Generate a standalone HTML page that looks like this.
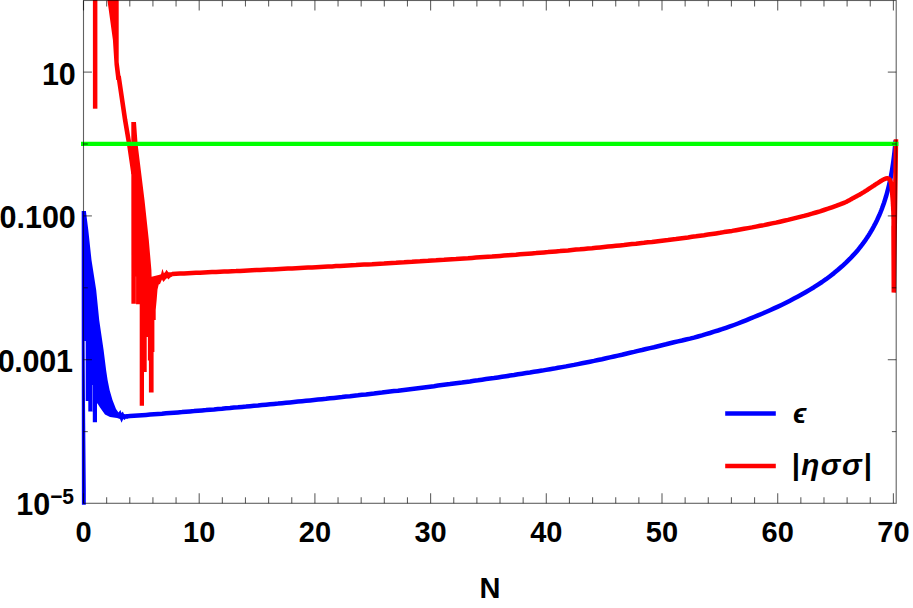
<!DOCTYPE html>
<html><head><meta charset="utf-8"><style>
html,body{margin:0;padding:0;background:#fff;}
body{width:913px;height:608px;position:relative;overflow:hidden;font-family:"Liberation Sans",sans-serif;font-weight:bold;color:#000;}
svg{position:absolute;left:0;top:0;}
.xl{position:absolute;top:514.5px;width:80px;text-align:center;font-size:29px;line-height:34px;}
.yl{position:absolute;right:837.2px;text-align:right;font-size:30.5px;line-height:40px;height:40px;white-space:nowrap;transform:scaleY(1.04);transform-origin:50% 52%;margin-top:1.5px;}
.sup{font-size:21px;position:relative;top:-11.3px;margin-left:0px;letter-spacing:-0.3px;line-height:0;}
.lg{position:absolute;font-size:30.5px;font-style:italic;line-height:34px;white-space:nowrap;letter-spacing:1.6px;}
#nl{position:absolute;left:450px;width:80px;text-align:center;top:571px;font-size:29px;line-height:34px;}
</style></head><body>
<svg width="913" height="608" viewBox="0 0 913 608">
<g fill="#0000ff" stroke="none">
<polygon points="81.7,210.9 85.9,210.9 88.3,230.0 91.5,260.0 96.2,290.0 99.2,320.0 103.6,350.0 106.1,370.0 107.6,380.0 109.6,390.0 112.5,400.0 116.0,409.0 118.5,412.5 120.4,410.0 121.5,413.0 122.8,411.5 124.0,414.0 126.0,414.2 128.0,414.1 128.0,418.6 126.0,418.6 124.5,420.0 123.2,419.0 121.6,422.8 120.0,419.0 117.0,417.9 110.0,416.9 105.0,414.4 100.0,407.5 97.5,403.6 97.0,403.6 97.0,422.3 92.8,422.3 92.8,411.5 88.3,411.5 88.3,401.0 85.7,401.0 85.7,341.0 84.6,341.0 85.0,400.0 85.8,490.0 85.8,504.8 81.9,504.8 81.7,300.0"/>
</g>
<polyline points="126.0,416.4 130.0,416.1 134.0,415.8 138.0,415.5 142.0,415.2 146.0,414.9 150.0,414.6 154.0,414.3 158.0,414.0 162.0,413.7 166.0,413.3 170.0,413.0 174.0,412.7 178.0,412.4 182.0,412.1 186.0,411.7 190.0,411.4 194.0,411.1 198.0,410.7 202.0,410.4 206.0,410.1 210.0,409.7 214.0,409.4 218.0,409.0 222.0,408.7 226.0,408.3 230.0,408.0 234.0,407.6 238.0,407.3 242.0,406.9 246.0,406.6 250.0,406.2 254.0,405.8 258.0,405.5 262.0,405.1 266.0,404.7 270.0,404.3 274.0,403.9 278.0,403.6 282.0,403.2 286.0,402.8 290.0,402.4 294.0,402.0 298.0,401.6 302.0,401.2 306.0,400.8 310.0,400.4 314.0,400.0 318.0,399.6 322.0,399.2 326.0,398.8 330.0,398.3 334.0,397.9 338.0,397.5 342.0,397.1 346.0,396.6 350.0,396.2 354.0,395.7 358.0,395.3 362.0,394.8 366.0,394.4 370.0,393.9 374.0,393.5 378.0,393.0 382.0,392.6 386.0,392.1 390.0,391.6 394.0,391.1 398.0,390.7 402.0,390.2 406.0,389.7 410.0,389.2 414.0,388.7 418.0,388.2 422.0,387.7 426.0,387.2 430.0,386.7 434.0,386.2 438.0,385.6 442.0,385.1 446.0,384.6 450.0,384.1 454.0,383.5 458.0,383.0 462.0,382.5 466.0,381.9 470.0,381.4 474.0,380.8 478.0,380.3 482.0,379.7 486.0,379.1 490.0,378.5 494.0,378.0 498.0,377.4 502.0,376.8 506.0,376.2 510.0,375.6 514.0,375.0 518.0,374.3 522.0,373.7 526.0,373.1 530.0,372.5 534.0,371.8 538.0,371.2 542.0,370.6 546.0,369.9 550.0,369.2 554.0,368.6 558.0,367.8 562.0,367.1 566.0,366.4 570.0,365.6 574.0,364.9 578.0,364.1 582.0,363.3 586.0,362.5 590.0,361.7 594.0,360.9 598.0,360.0 602.0,359.2 606.0,358.3 610.0,357.4 614.0,356.5 618.0,355.6 622.0,354.7 626.0,353.7 630.0,352.8 634.0,351.9 638.0,350.9 642.0,350.0 646.0,349.0 650.0,348.1 654.0,347.2 658.0,346.2 662.0,345.2 666.0,344.3 670.0,343.3 674.0,342.3 678.0,341.4 682.0,340.5 686.0,339.5 690.0,338.6 694.0,337.6 698.0,336.5 702.0,335.4 706.0,334.2 710.0,333.0 714.0,331.7 718.0,330.5 722.0,329.2 726.0,327.8 730.0,326.4 734.0,325.0 738.0,323.5 742.0,321.9 746.0,320.3 750.0,318.7 754.0,317.0 758.0,315.4 762.0,313.7 766.0,312.0 770.0,310.2 774.0,308.4 778.0,306.6 782.0,304.7 786.0,302.7 790.0,300.7 794.0,298.6 798.0,296.5 802.0,294.3 806.0,292.0 810.0,289.6 814.0,287.2 818.0,284.6 822.0,282.0 826.0,279.2 830.0,276.2 834.0,273.1 838.0,269.8 842.0,266.3 846.0,262.6 850.0,258.7 854.0,254.4 858.0,249.9 860.0,247.4 860.5,246.8 861.0,246.1 861.5,245.5 862.0,244.8 862.5,244.1 863.0,243.5 863.5,242.8 864.0,242.1 864.5,241.4 865.0,240.7 865.5,240.0 866.0,239.2 866.5,238.5 867.0,237.8 867.5,237.0 868.0,236.2 868.5,235.5 869.0,234.7 869.5,233.9 870.0,233.1 870.5,232.2 871.0,231.4 871.5,230.5 872.0,229.7 872.5,228.8 873.0,227.9 873.5,227.0 874.0,226.1 874.5,225.1 875.0,224.2 875.5,223.2 876.0,222.2 876.5,221.2 877.0,220.2 877.5,219.1 878.0,218.0 878.5,216.9 879.0,215.8 879.5,214.7 880.0,213.5 880.5,212.3 881.0,211.0 881.5,209.8 882.0,208.5 882.5,207.1 883.0,205.7 883.5,204.3 884.0,202.9 884.5,201.3 885.0,199.8 885.5,198.2 886.0,196.5 886.5,194.8 887.0,193.0 887.5,191.2 888.0,189.3 888.5,187.3 889.0,185.2 889.5,183.1 890.0,180.8 890.5,178.4 891.0,175.8 891.5,173.1 892.0,170.3 892.5,167.2 893.0,163.8 893.5,160.2 894.0,156.3 894.5,151.9 895.0,147.1 895.5,141.6 895.6,140.4" fill="none" stroke="#0000ff" stroke-width="4.5" stroke-linejoin="round"/>
<rect x="92.1" y="385" width="0.7" height="26.5" fill="#fff" opacity="0.55"/>
<g fill="#ff0000" stroke="none">
<polygon points="92.9,0.0 97.4,0.0 97.4,108.7 92.9,108.7"/>
<polygon points="107.4,0.0 118.7,0.0 118.7,62.0 121.0,80.0 116.3,80.0 114.5,65.0 112.9,40.0"/>
<polygon points="131.3,122.0 136.0,122.0 137.6,144.0 144.5,200.0 148.8,240.0 151.4,270.0 151.6,276.7 159.5,274.7 161.0,274.2 162.4,268.8 163.9,273.2 165.4,271.7 166.4,269.7 168.4,272.2 170.8,272.2 172.3,271.9 172.3,276.5 170.3,277.4 168.4,279.6 167.2,278.1 165.9,279.1 163.4,282.1 162.0,279.6 160.0,284.1 158.7,284.5 157.5,289.5 156.7,299.4 155.7,310.0 155.7,320.0 154.4,320.0 154.4,352.0 153.6,352.0 153.6,392.6 148.9,392.6 148.9,360.5 147.9,360.5 147.9,337.0 146.7,337.0 146.7,372.0 144.0,372.0 144.0,405.8 139.7,405.8 139.7,304.3 135.9,304.3 135.9,303.8 131.4,303.8"/>
</g>
<polyline points="118.6,76.0 125.1,120.0 129.2,144.0 133.6,174.0" fill="none" stroke="#ff0000" stroke-width="4.6"/>
<polyline points="172.0,273.9 176.0,273.7 180.0,273.5 184.0,273.4 188.0,273.2 192.0,273.0 196.0,272.8 200.0,272.7 204.0,272.5 208.0,272.3 212.0,272.1 216.0,272.0 220.0,271.8 224.0,271.6 228.0,271.4 232.0,271.2 236.0,271.1 240.0,270.9 244.0,270.7 248.0,270.5 252.0,270.3 256.0,270.1 260.0,270.0 264.0,269.8 268.0,269.6 272.0,269.4 276.0,269.2 280.0,269.0 284.0,268.8 288.0,268.6 292.0,268.4 296.0,268.2 300.0,268.0 304.0,267.8 308.0,267.6 312.0,267.4 316.0,267.2 320.0,267.0 324.0,266.8 328.0,266.6 332.0,266.4 336.0,266.1 340.0,265.9 344.0,265.7 348.0,265.5 352.0,265.3 356.0,265.1 360.0,264.8 364.0,264.6 368.0,264.4 372.0,264.2 376.0,263.9 380.0,263.7 384.0,263.5 388.0,263.2 392.0,263.0 396.0,262.8 400.0,262.5 404.0,262.3 408.0,262.0 412.0,261.8 416.0,261.5 420.0,261.3 424.0,261.0 428.0,260.8 432.0,260.5 436.0,260.3 440.0,260.0 444.0,259.8 448.0,259.5 452.0,259.2 456.0,259.0 460.0,258.7 464.0,258.4 468.0,258.2 472.0,257.9 476.0,257.6 480.0,257.3 484.0,257.0 488.0,256.7 492.0,256.5 496.0,256.2 500.0,255.9 504.0,255.6 508.0,255.3 512.0,255.0 516.0,254.7 520.0,254.3 524.0,254.0 528.0,253.7 532.0,253.4 536.0,253.1 540.0,252.7 544.0,252.4 548.0,252.1 552.0,251.7 556.0,251.4 560.0,251.1 564.0,250.7 568.0,250.4 572.0,250.0 576.0,249.6 580.0,249.3 584.0,248.9 588.0,248.5 592.0,248.2 596.0,247.8 600.0,247.4 604.0,247.0 608.0,246.6 612.0,246.2 616.0,245.8 620.0,245.4 624.0,245.0 628.0,244.5 632.0,244.1 636.0,243.7 640.0,243.2 644.0,242.8 648.0,242.3 652.0,241.9 656.0,241.4 660.0,240.9 664.0,240.4 668.0,240.0 672.0,239.5 676.0,239.0 680.0,238.4 684.0,237.9 688.0,237.4 692.0,236.8 696.0,236.3 700.0,235.7 704.0,235.2 708.0,234.6 712.0,234.0 716.0,233.4 720.0,232.8 724.0,232.1 728.0,231.5 732.0,230.9 736.0,230.2 740.0,229.5 744.0,228.8 748.0,228.1 752.0,227.4 756.0,226.6 760.0,225.8 764.0,225.1 768.0,224.2 772.0,223.4 776.0,222.6 780.0,221.7 784.0,220.8 788.0,219.9 792.0,218.9 796.0,217.9 800.0,216.9 804.0,215.9 808.0,214.8 812.0,213.7 816.0,212.5 820.0,211.3 824.0,210.0 828.0,208.7 832.0,207.3 836.0,205.9 840.0,204.4 844.0,202.8 846.0,202.0 846.6,201.7 847.1,201.4 847.7,201.1 848.3,200.8 848.8,200.5 849.4,200.2 849.9,199.9 850.5,199.6 851.1,199.3 851.6,199.0 852.2,198.6 852.7,198.3 853.3,198.0 853.8,197.7 854.4,197.4 855.0,197.1 855.5,196.8 856.1,196.5 856.6,196.2 857.2,195.9 857.8,195.6 858.3,195.3 858.9,195.0 859.4,194.7 860.0,194.4 860.5,194.0 861.1,193.7 861.6,193.4 862.2,193.1 862.7,192.7 863.3,192.4 863.8,192.1 864.4,191.7 864.9,191.4 865.4,191.1 866.0,190.7 866.5,190.4 867.1,190.0 867.6,189.7 868.1,189.3 868.7,189.0 869.2,188.6 869.7,188.3 870.3,187.9 870.8,187.6 871.3,187.2 871.8,186.9 872.4,186.5 872.9,186.2 873.4,185.9 874.0,185.5 874.5,185.2 875.0,184.8 875.6,184.5 876.1,184.1 876.7,183.8 877.2,183.4 877.7,183.1 878.3,182.7 878.8,182.4 879.3,182.0 879.9,181.7 880.4,181.3 880.9,181.0 881.5,180.7 882.0,180.3 882.6,180.0 883.1,179.7 883.7,179.4 884.3,179.2 884.9,178.9 885.5,178.7 886.1,178.5 886.7,178.3 887.3,178.3 888.0,178.4 888.6,178.6 889.1,179.0 889.6,179.4 889.9,179.9 890.2,180.5 890.5,181.1 890.7,181.7 890.8,182.4 891.0,183.0 891.1,183.6 891.2,184.2 891.3,184.9 891.4,185.5 891.5,186.1 891.6,186.7 891.6,187.4 891.7,188.0 891.8,188.6 891.8,189.3 891.9,189.9 892.0,190.5 892.0,191.2 892.1,191.8 892.1,192.4 892.2,193.1 892.2,193.7 892.3,194.4 892.3,195.0 892.4,195.6 892.4,196.3 892.5,196.9 892.5,197.5 892.6,198.2 892.6,198.8 892.7,199.4 892.7,200.1 892.8,200.7 892.8,201.3 892.9,202.0 892.9,202.6 892.9,203.3 893.0,203.9 893.0,204.5 893.0,205.2 893.1,205.8 893.1,206.4 893.2,207.1 893.2,207.7 893.2,208.3 893.2,209.0 893.3,209.6 893.3,210.2 893.3,210.9 893.4,211.5 893.4,212.2 893.4,212.8 893.4,213.4 893.4,214.1 893.5,214.7 893.5,215.3 893.5,216.0 893.5,216.6 893.5,217.2 893.5,217.9 893.5,218.5 893.6,219.2 893.6,219.8 893.6,220.4 893.6,221.1 893.6,221.7 893.6,222.3 893.6,223.0 893.6,223.6 893.6,224.3 893.6,224.9 893.6,225.5 893.5,226.2 893.5,226.8 893.5,227.4 893.5,228.1 893.5,228.7 893.5,229.4 893.5,230.0 893.8,292.6 896.0,139.2" fill="none" stroke="#ff0000" stroke-width="4.5" stroke-linejoin="bevel"/>
<rect x="135.5" y="276.5" width="0.7" height="27.5" fill="#fff" opacity="0.3"/>
<line x1="81" y1="143.9" x2="898.4" y2="143.9" stroke="#00ff00" stroke-width="4.2"/>
<g stroke="#000" stroke-opacity="0.62" stroke-width="1.1" fill="none">
<rect x="83.5" y="0.5" width="812.7" height="502.8"/>
<line x1="83.50" y1="503.30" x2="83.50" y2="493.30"/><line x1="83.50" y1="0.50" x2="83.50" y2="10.50"/><line x1="106.64" y1="503.30" x2="106.64" y2="497.30"/><line x1="106.64" y1="0.50" x2="106.64" y2="6.50"/><line x1="129.78" y1="503.30" x2="129.78" y2="497.30"/><line x1="129.78" y1="0.50" x2="129.78" y2="6.50"/><line x1="152.92" y1="503.30" x2="152.92" y2="497.30"/><line x1="152.92" y1="0.50" x2="152.92" y2="6.50"/><line x1="176.06" y1="503.30" x2="176.06" y2="497.30"/><line x1="176.06" y1="0.50" x2="176.06" y2="6.50"/><line x1="199.20" y1="503.30" x2="199.20" y2="493.30"/><line x1="199.20" y1="0.50" x2="199.20" y2="10.50"/><line x1="222.34" y1="503.30" x2="222.34" y2="497.30"/><line x1="222.34" y1="0.50" x2="222.34" y2="6.50"/><line x1="245.48" y1="503.30" x2="245.48" y2="497.30"/><line x1="245.48" y1="0.50" x2="245.48" y2="6.50"/><line x1="268.62" y1="503.30" x2="268.62" y2="497.30"/><line x1="268.62" y1="0.50" x2="268.62" y2="6.50"/><line x1="291.76" y1="503.30" x2="291.76" y2="497.30"/><line x1="291.76" y1="0.50" x2="291.76" y2="6.50"/><line x1="314.90" y1="503.30" x2="314.90" y2="493.30"/><line x1="314.90" y1="0.50" x2="314.90" y2="10.50"/><line x1="338.04" y1="503.30" x2="338.04" y2="497.30"/><line x1="338.04" y1="0.50" x2="338.04" y2="6.50"/><line x1="361.18" y1="503.30" x2="361.18" y2="497.30"/><line x1="361.18" y1="0.50" x2="361.18" y2="6.50"/><line x1="384.32" y1="503.30" x2="384.32" y2="497.30"/><line x1="384.32" y1="0.50" x2="384.32" y2="6.50"/><line x1="407.46" y1="503.30" x2="407.46" y2="497.30"/><line x1="407.46" y1="0.50" x2="407.46" y2="6.50"/><line x1="430.60" y1="503.30" x2="430.60" y2="493.30"/><line x1="430.60" y1="0.50" x2="430.60" y2="10.50"/><line x1="453.74" y1="503.30" x2="453.74" y2="497.30"/><line x1="453.74" y1="0.50" x2="453.74" y2="6.50"/><line x1="476.88" y1="503.30" x2="476.88" y2="497.30"/><line x1="476.88" y1="0.50" x2="476.88" y2="6.50"/><line x1="500.02" y1="503.30" x2="500.02" y2="497.30"/><line x1="500.02" y1="0.50" x2="500.02" y2="6.50"/><line x1="523.16" y1="503.30" x2="523.16" y2="497.30"/><line x1="523.16" y1="0.50" x2="523.16" y2="6.50"/><line x1="546.30" y1="503.30" x2="546.30" y2="493.30"/><line x1="546.30" y1="0.50" x2="546.30" y2="10.50"/><line x1="569.44" y1="503.30" x2="569.44" y2="497.30"/><line x1="569.44" y1="0.50" x2="569.44" y2="6.50"/><line x1="592.58" y1="503.30" x2="592.58" y2="497.30"/><line x1="592.58" y1="0.50" x2="592.58" y2="6.50"/><line x1="615.72" y1="503.30" x2="615.72" y2="497.30"/><line x1="615.72" y1="0.50" x2="615.72" y2="6.50"/><line x1="638.86" y1="503.30" x2="638.86" y2="497.30"/><line x1="638.86" y1="0.50" x2="638.86" y2="6.50"/><line x1="662.00" y1="503.30" x2="662.00" y2="493.30"/><line x1="662.00" y1="0.50" x2="662.00" y2="10.50"/><line x1="685.14" y1="503.30" x2="685.14" y2="497.30"/><line x1="685.14" y1="0.50" x2="685.14" y2="6.50"/><line x1="708.28" y1="503.30" x2="708.28" y2="497.30"/><line x1="708.28" y1="0.50" x2="708.28" y2="6.50"/><line x1="731.42" y1="503.30" x2="731.42" y2="497.30"/><line x1="731.42" y1="0.50" x2="731.42" y2="6.50"/><line x1="754.56" y1="503.30" x2="754.56" y2="497.30"/><line x1="754.56" y1="0.50" x2="754.56" y2="6.50"/><line x1="777.70" y1="503.30" x2="777.70" y2="493.30"/><line x1="777.70" y1="0.50" x2="777.70" y2="10.50"/><line x1="800.84" y1="503.30" x2="800.84" y2="497.30"/><line x1="800.84" y1="0.50" x2="800.84" y2="6.50"/><line x1="823.98" y1="503.30" x2="823.98" y2="497.30"/><line x1="823.98" y1="0.50" x2="823.98" y2="6.50"/><line x1="847.12" y1="503.30" x2="847.12" y2="497.30"/><line x1="847.12" y1="0.50" x2="847.12" y2="6.50"/><line x1="870.26" y1="503.30" x2="870.26" y2="497.30"/><line x1="870.26" y1="0.50" x2="870.26" y2="6.50"/><line x1="893.40" y1="503.30" x2="893.40" y2="493.30"/><line x1="893.40" y1="0.50" x2="893.40" y2="10.50"/><line x1="83.50" y1="431.60" x2="87.80" y2="431.60"/><line x1="896.20" y1="431.60" x2="891.90" y2="431.60"/><line x1="83.50" y1="359.70" x2="91.90" y2="359.70"/><line x1="896.20" y1="359.70" x2="887.80" y2="359.70"/><line x1="83.50" y1="287.80" x2="87.80" y2="287.80"/><line x1="896.20" y1="287.80" x2="891.90" y2="287.80"/><line x1="83.50" y1="215.90" x2="91.90" y2="215.90"/><line x1="896.20" y1="215.90" x2="887.80" y2="215.90"/><line x1="83.50" y1="144.00" x2="87.80" y2="144.00"/><line x1="896.20" y1="144.00" x2="891.90" y2="144.00"/><line x1="83.50" y1="72.10" x2="91.90" y2="72.10"/><line x1="896.20" y1="72.10" x2="887.80" y2="72.10"/>
</g>
<line x1="725.2" y1="413.4" x2="775.8" y2="413.4" stroke="#0000ff" stroke-width="4.5"/>
<line x1="725.2" y1="465.9" x2="775.8" y2="465.9" stroke="#ff0000" stroke-width="4.5"/>
</svg>
<div class="xl" style="left:43.5px">0</div><div class="xl" style="left:159.2px">10</div><div class="xl" style="left:274.9px">20</div><div class="xl" style="left:390.6px">30</div><div class="xl" style="left:506.3px">40</div><div class="xl" style="left:622.0px">50</div><div class="xl" style="left:737.7px">60</div><div class="xl" style="left:853.4px">70</div>
<div class="yl" style="top:52.1px;right:837.2px;letter-spacing:0px">10</div><div class="yl" style="top:195.9px;right:837.2px;letter-spacing:0px">0.100</div><div class="yl" style="top:339.7px;right:840.3px;letter-spacing:-0.25px">0.001</div><div class="yl" style="right:839.4px;top:482.9px">10<span class="sup">−5</span></div>
<div id="nl">N</div>
<div class="lg" id="lg1" style="left:793px;top:397.3px;font-size:28px;">ϵ</div>
<div class="lg" id="lg2" style="left:791.3px;top:447.6px;font-size:29.6px;">|ησσ|</div>
</body></html>
